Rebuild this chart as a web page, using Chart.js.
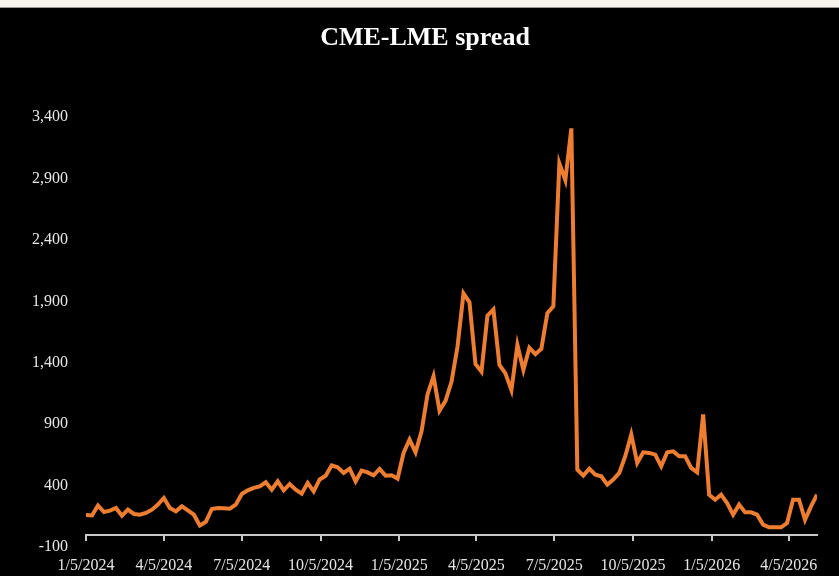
<!DOCTYPE html>
<html>
<head>
<meta charset="utf-8">
<script src="https://cdn.jsdelivr.net/npm/chart.js@4.4.1/dist/chart.umd.min.js"></script>
<style>
  html, body { margin: 0; padding: 0; background: #000; }
  #wrap { position: relative; width: 839px; height: 576px; background: #000; }
  #strip { position: absolute; left: 0; top: 0; width: 839px; height: 7px; background: #f6f2ec; border-bottom: 1px solid #9a9a9a; }
  canvas { position: absolute; left: 0; top: 0; }
</style>
</head>
<body>
<div id="wrap">
  <canvas id="spreadChart" width="839" height="576"></canvas>
  <div id="strip"></div>
</div>
<script>
const startDate = "1/5/2024";
const tickLabels = [
  "1/5/2024", "4/5/2024", "7/5/2024", "10/5/2024", "1/5/2025",
  "4/5/2025", "7/5/2025", "10/5/2025", "1/5/2026", "4/5/2026",
];
const yTicks = [-100, 400, 900, 1400, 1900, 2400, 2900, 3400];

// weekly CME-LME spread
const spread = [
  160, 157, 238, 185, 196, 218, 155, 204, 169, 163,
  177, 204, 245, 299, 218, 190, 231, 198, 163, 75,
  105, 210, 218, 215, 212, 245, 332, 361, 381, 394,
  427, 367, 435, 361, 413, 367, 334, 422, 353, 450,
  480, 565, 549, 503, 538, 435, 522, 508, 484, 536,
  481, 484, 457, 666, 775, 671, 843, 1142, 1291, 1010,
  1090, 1245, 1530, 1965, 1893, 1390, 1328, 1784, 1834, 1382,
  1314, 1178, 1545, 1342, 1523, 1470, 1515, 1804, 1861, 3024,
  2887, 3309, 530, 481, 538, 489, 476, 408, 449, 503,
  639, 816, 585, 671, 666, 652, 557, 671, 679, 639,
  639, 544, 508, 979, 326, 285, 326, 258, 163, 245,
  182, 182, 163, 82, 60, 60, 60, 95, 285, 285,
  122, 231, 326,
];

function dayOffset(str) {
  const [m, d, y] = str.split("/").map(Number);
  return Math.round((Date.UTC(y, m - 1, d) - Date.UTC(2024, 0, 5)) / 86400000);
}

const points = spread.map((v, i) => ({ x: dayOffset(startDate) + i * 7, y: v }));
const tickValues = tickLabels.map(dayOffset);
const serif = "'Liberation Serif', 'Times New Roman', serif";
const labelFont = { family: serif, size: 16 };

new Chart(document.getElementById("spreadChart"), {
  type: "line",
  data: {
    datasets: [
      {
        label: "CME-LME spread",
        data: points,
        borderColor: "#ED7D31",
        backgroundColor: "#ED7D31",
        borderWidth: 4,
        pointRadius: 0,
        tension: 0,
      },
    ],
  },
  options: {
    responsive: false,
    animation: false,
    layout: { padding: { left: 11, right: 0, top: 0, bottom: 29 } },
    plugins: {
      legend: { display: false },
      tooltip: { enabled: false },
      title: {
        display: true,
        text: "CME-LME spread",
        color: "#ffffff",
        font: { family: serif, size: 26, weight: "bold" },
        padding: { top: 23, bottom: 63 },
      },
    },
    scales: {
      x: {
        type: "linear",
        position: { y: 0 },
        min: 0,
        max: (spread.length - 1) * 7,
        afterBuildTicks: (scale) => {
          scale.ticks = tickValues.map((v) => ({ value: v }));
        },
        ticks: {
          autoSkip: false,
          maxRotation: 0,
          color: "#e6e6e6",
          font: labelFont,
          padding: 16,
          callback: (value) => tickLabels[tickValues.indexOf(value)] || "",
        },
        grid: { drawOnChartArea: false, drawTicks: true, tickLength: 5, color: "#c8c8c8", lineWidth: 2 },
        border: { display: true, color: "#c8c8c8", width: 2 },
      },
      y: {
        min: -100,
        max: 3400,
        afterBuildTicks: (scale) => {
          scale.ticks = yTicks.map((v) => ({ value: v }));
        },
        afterFit: (scale) => {
          scale.width = 75;
        },
        ticks: {
          color: "#e6e6e6",
          font: labelFont,
          padding: 18,
          callback: (value) => value.toLocaleString("en-US"),
        },
        grid: { display: false, drawTicks: false },
        border: { display: false },
      },
      // empty right-hand margin, keeps the plot ending where the reference does
      yRight: {
        position: "right",
        min: -100,
        max: 3400,
        ticks: { display: false },
        grid: { display: false },
        border: { display: false },
        afterFit: (scale) => {
          scale.width = 22;
        },
      },
    },
  },
});
</script>
</body>
</html>
